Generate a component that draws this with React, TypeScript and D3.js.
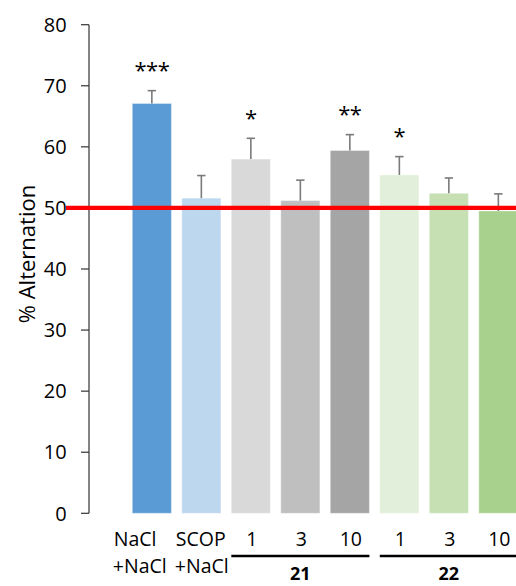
import React from "react";
import * as d3 from "d3";

const categories = ["NaCl+NaCl", "SCOP+NaCl", "21-1", "21-3", "21-10", "22-1", "22-3", "22-10"];
const labelLine1 = ["NaCl", "SCOP", "1", "3", "10", "1", "3", "10"];
const labelLine2 = ["+NaCl", "+NaCl", "", "", "", "", "", ""];
const means = [67.1, 51.6, 58.0, 51.2, 59.4, 55.4, 52.4, 49.5];
const errors = [2.1, 3.7, 3.4, 3.35, 2.6, 3.0, 2.5, 2.8];
const stars = ["***", "", "*", "", "**", "*", "", ""];
const barColors = ["#5b9bd5", "#bdd7ee", "#d9d9d9", "#bfbfbf", "#a5a5a5", "#e2efda", "#c6e0b4", "#a9d18e"];
const yTicks = [0, 10, 20, 30, 40, 50, 60, 70, 80];
const groupLabels = ["21", "22"];
const groupFrom = [2, 5];
const groupTo = [4, 7];
const referenceValue = 50;

const W = 516;
const H = 586;
const FONT = "'Open Sans', 'Noto Sans', sans-serif";

export default function App() {
  const y = d3.scaleLinear().domain([0, 80]).range([513.3, 24.7]);
  const x = d3
    .scaleBand<string>()
    .domain(categories)
    .range([127.1, 523.1])
    .paddingInner(0.21)
    .paddingOuter(0.105);
  const bw = x.bandwidth();
  const axisX = 89;
  // left-aligned label blocks for the two control groups
  const leftOffsets = [-18.5, -6];

  return (
    <svg
      width={W}
      height={H}
      viewBox={`0 0 ${W} ${H}`}
      style={{ position: "absolute", left: 0, top: 0, background: "#fff", fontFamily: FONT }}
    >
      {/* bars */}
      {categories.map((c, i) => (
        <rect
          key={c}
          x={x(c)}
          y={y(means[i])}
          width={bw}
          height={y(0) - y(means[i])}
          fill={barColors[i]}
          stroke="#ffffff"
          strokeOpacity={0.35}
          strokeWidth={1}
        />
      ))}
      {/* error bars */}
      {categories.map((c, i) => {
        const cx = (x(c) as number) + bw / 2;
        const top = y(means[i] + errors[i]);
        return (
          <g key={"e" + c} stroke="#7a7a7a" strokeWidth={1.6}>
            <line x1={cx} x2={cx} y1={y(means[i])} y2={top} />
            <line x1={cx - 4.2} x2={cx + 4.2} y1={top} y2={top} />
          </g>
        );
      })}
      {/* stars */}
      {categories.map((c, i) =>
        stars[i] ? (
          <text
            key={"s" + c}
            x={(x(c) as number) + bw / 2}
            y={y(means[i] + errors[i]) - 12.5}
            textAnchor="middle"
            fontSize={22}
            letterSpacing={-0.5}
            fill="#000"
          >
            {stars[i]}
          </text>
        ) : null
      )}
      {/* y axis */}
      <line x1={axisX} x2={axisX} y1={y(80)} y2={y(0)} stroke="#333" strokeWidth={1.2} />
      {yTicks.map((t) => (
        <g key={"t" + t}>
          <line x1={axisX - 8} x2={axisX} y1={y(t)} y2={y(t)} stroke="#333" strokeWidth={1.2} />
          <text x={66.7} y={y(t)} dy="0.36em" textAnchor="end" fontSize={20} fill="#000">
            {t}
          </text>
        </g>
      ))}
      <text
        transform={`translate(35,254) rotate(-90)`}
        textAnchor="middle"
        fontSize={22}
        fill="#000"
      >
        % Alternation
      </text>
      {/* reference line */}
      <line
        x1={66}
        x2={W}
        y1={y(referenceValue)}
        y2={y(referenceValue)}
        stroke="#ff0000"
        strokeWidth={4.3}
      />
      {/* x labels */}
      {categories.map((c, i) => {
        const isBlock = labelLine2[i] !== "";
        const lx = isBlock ? (x(c) as number) + leftOffsets[i] : (x(c) as number) + bw / 2 + 1;
        return (
          <g key={"l" + c} fontSize={19.5} fill="#000">
            <text x={lx} y={545.7} textAnchor={isBlock ? "start" : "middle"}>
              {labelLine1[i]}
            </text>
            {isBlock && (
              <text x={lx - 1} y={573} textAnchor="start">
                {labelLine2[i]}
              </text>
            )}
          </g>
        );
      })}
      {/* group brackets */}
      {groupLabels.map((g, k) => {
        const x1 = x(categories[groupFrom[k]]) as number;
        const x2 = (x(categories[groupTo[k]]) as number) + bw;
        return (
          <g key={"g" + g}>
            <line x1={x1} x2={x2} y1={556} y2={556} stroke="#000" strokeWidth={2.5} />
            <text x={(x1 + x2) / 2} y={580} textAnchor="middle" fontSize={18} fontWeight="bold" fill="#000">
              {g}
            </text>
          </g>
        );
      })}
    </svg>
  );
}
